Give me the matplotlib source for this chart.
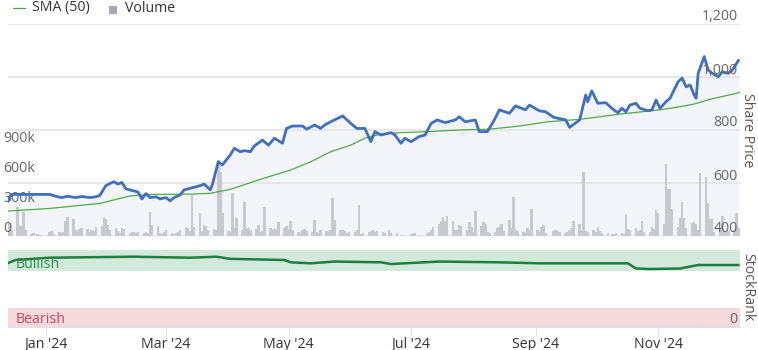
import matplotlib
matplotlib.use("Agg")
import matplotlib.pyplot as plt
import matplotlib.transforms as mtransforms
from matplotlib.lines import Line2D
from matplotlib.patches import Rectangle
import pandas as pd

plt.rcParams['font.family'] = ['Open Sans', 'DejaVu Sans']

# share price
price_dates = [
    "2023-12-13", "2023-12-15", "2023-12-24", "2024-01-03", "2024-01-06", "2024-01-09",
    "2024-01-12", "2024-01-16", "2024-01-19", "2024-01-23", "2024-01-26", "2024-01-28",
    "2024-01-31", "2024-02-02", "2024-02-04", "2024-02-06", "2024-02-08", "2024-02-10",
    "2024-02-13", "2024-02-16", "2024-02-18", "2024-02-20", "2024-02-22", "2024-02-25",
    "2024-02-27", "2024-03-01", "2024-03-03", "2024-03-05", "2024-03-08", "2024-03-10",
    "2024-03-15", "2024-03-18", "2024-03-20", "2024-03-23", "2024-03-24", "2024-03-27",
    "2024-03-29", "2024-04-02", "2024-04-04", "2024-04-07", "2024-04-09", "2024-04-12",
    "2024-04-14", "2024-04-18", "2024-04-21", "2024-04-24", "2024-04-28", "2024-04-30",
    "2024-05-03", "2024-05-08", "2024-05-10", "2024-05-14", "2024-05-17", "2024-05-19",
    "2024-05-23", "2024-05-28", "2024-06-01", "2024-06-04", "2024-06-08", "2024-06-11",
    "2024-06-13", "2024-06-16", "2024-06-21", "2024-06-23", "2024-06-26", "2024-06-28",
    "2024-07-01", "2024-07-05", "2024-07-08", "2024-07-11", "2024-07-14", "2024-07-18",
    "2024-07-23", "2024-07-25", "2024-07-28", "2024-08-02", "2024-08-04", "2024-08-08",
    "2024-08-11", "2024-08-14", "2024-08-19", "2024-08-22", "2024-08-27", "2024-08-29",
    "2024-09-03", "2024-09-06", "2024-09-10", "2024-09-16", "2024-09-18", "2024-09-23",
    "2024-09-26", "2024-09-27", "2024-09-29", "2024-10-02", "2024-10-06", "2024-10-09",
    "2024-10-12", "2024-10-14", "2024-10-16", "2024-10-18", "2024-10-21", "2024-10-23",
    "2024-10-27", "2024-10-29", "2024-10-31", "2024-11-02", "2024-11-05", "2024-11-07",
    "2024-11-11", "2024-11-13", "2024-11-15", "2024-11-17", "2024-11-19", "2024-11-20",
    "2024-11-21", "2024-11-24", "2024-11-26", "2024-11-28", "2024-12-01", "2024-12-03",
    "2024-12-06", "2024-12-08", "2024-12-11",
]
price = [
    530, 557, 557, 557, 550, 545,
    550, 545, 549, 545, 548, 553,
    590, 598, 605, 596, 602, 578,
    572, 566, 540, 560, 545, 548,
    540, 545, 533, 545, 555, 574,
    584, 590, 596, 574, 592, 680,
    668, 706, 731, 718, 722, 718,
    740, 762, 743, 769, 750, 806,
    815, 815, 803, 819, 806, 819,
    835, 853, 825, 806, 806, 756,
    794, 781, 790, 781, 750, 769,
    756, 775, 781, 825, 838, 828,
    838, 850, 831, 838, 794, 794,
    831, 876, 863, 891, 876, 894,
    872, 869, 848, 838, 810, 838,
    932, 907, 948, 901, 903, 882,
    865, 882, 869, 894, 901, 882,
    873, 876, 913, 882, 907, 920,
    982, 996, 963, 970, 932, 920,
    1014, 1077, 1026, 1014, 1001, 1020,
    1014, 1026, 1062,
]

sma_dates = [
    "2023-12-13", "2024-01-03", "2024-01-28", "2024-02-12", "2024-02-22", "2024-03-13",
    "2024-03-23", "2024-04-02", "2024-04-17", "2024-05-02", "2024-05-12", "2024-05-22",
    "2024-06-01", "2024-06-08", "2024-06-16", "2024-06-26", "2024-07-10", "2024-07-25",
    "2024-08-09", "2024-08-24", "2024-09-07", "2024-09-23", "2024-10-13", "2024-11-02",
    "2024-11-12", "2024-11-19", "2024-11-27", "2024-12-12",
]
sma = [
    494, 504, 523, 551, 557, 558,
    561, 576, 614, 649, 680, 718,
    743, 769, 785, 790, 794, 800,
    803, 815, 831, 840, 860, 876,
    888, 898, 916, 942,
]

# daily volume in thousands, one per trading day from 13 Dec 2023
vol_start = "2023-12-13"
volume_k = [
    140, 130, 60, 290, 100, 100, 240, 60, 20, 30, 0, 20, 10, 0, 0, 40, 50, 20, 40, 30,
    40, 150, 190, 170, 60, 50, 70, 80, 70, 40, 60, 50, 90, 100, 190, 170, 110, 60, 80, 50,
    30, 80, 70, 30, 40, 40, 30, 40, 30, 40, 30, 240, 110, 100, 30, 20, 40, 60, 30, 20,
    30, 40, 60, 90, 80, 50, 410, 90, 230, 50, 110, 100, 60, 70, 60, 760, 640, 230, 50, 40,
    430, 80, 180, 60, 340, 70, 80, 60, 70, 110, 40, 50, 290, 80, 60, 70, 60, 140, 80, 100,
    70, 150, 60, 40, 30, 60, 70, 50, 40, 160, 40, 30, 60, 50, 40, 60, 380, 160, 60, 60,
    50, 30, 40, 40, 60, 310, 20, 30, 40, 50, 60, 40, 50, 40, 30, 0, 60, 30, 30, 0,
    10, 0, 0, 20, 30, 30, 0, 10, 0, 30, 40, 60, 90, 120, 150, 190, 150, 200, 150, 60,
    60, 110, 100, 60, 140, 90, 40, 250, 100, 140, 120, 40, 30, 40, 80, 90, 120, 50, 160, 80,
    390, 60, 50, 40, 30, 80, 50, 270, 60, 40, 90, 110, 30, 0, 50, 60, 50, 40, 30, 40,
    60, 80, 150, 120, 50, 640, 50, 40, 60, 40, 90, 50, 30, 30, 0, 20, 20, 30, 30, 20,
    210, 70, 60, 80, 50, 60, 150, 40, 40, 90, 70, 260, 230, 120, 720, 470, 470, 270, 90, 180,
    340, 180, 80, 130, 140, 120, 60, 630, 590, 330, 170, 170, 40, 60, 200, 50, 40, 50, 60, 230, 80,
]

rank_dates = [
    "2023-12-13", "2023-12-17", "2024-01-03", "2024-02-14", "2024-03-13", "2024-03-26",
    "2024-04-02", "2024-04-29", "2024-05-02", "2024-05-12", "2024-05-24", "2024-06-16",
    "2024-06-21", "2024-07-15", "2024-08-14", "2024-09-03", "2024-10-17", "2024-10-21",
    "2024-10-28", "2024-11-12", "2024-11-21", "2024-12-11",
]
rank = [
    82.7, 87, 90, 91.3, 90, 91.3,
    88.5, 87, 84, 82.7, 85, 84,
    81.8, 85, 84, 82.7, 82.7, 76,
    75.3, 76, 80.5, 80.5,
]

price_ticks = [400, 600, 800, 1000, 1200]
vol_ticks = [0, 300, 600, 900]
vol_labels = ["0", "300k", "600k", "900k"]
month_ticks = ["2024-01-01", "2024-03-01", "2024-05-01", "2024-07-01", "2024-09-01", "2024-11-01"]
month_labels = ["Jan '24", "Mar '24", "May '24", "Jul '24", "Sep '24", "Nov '24"]

price_dates = pd.to_datetime(price_dates)
sma_dates = pd.to_datetime(sma_dates)
rank_dates = pd.to_datetime(rank_dates)
vol_dates = pd.bdate_range(vol_start, periods=len(volume_k))

x0 = pd.Timestamp("2023-12-13 07:00")
x1 = pd.Timestamp("2024-12-11 20:00")

text_col = "#333333"
label_col = "#666666"
fs = 10.2

fig = plt.figure(figsize=(7.58, 3.5), dpi=100)
rect = [8 / 758, 114 / 350, 732 / 758, 212 / 350]

# background layer: gridlines and area under price
ax_bg = fig.add_axes(rect)
ax_bg.set_xlim(x0, x1)
ax_bg.set_ylim(400, 1200)
for t in price_ticks:
    ax_bg.axhline(t, color="#e6e6e6", lw=1.3, zorder=1)
ax_bg.fill_between(price_dates, price, 400, color="#f3f5fa", lw=0, zorder=0)
ax_bg.axis("off")

# volume bars
ax_vol = fig.add_axes(rect)
ax_vol.patch.set_visible(False)
ax_vol.bar(vol_dates, volume_k, width=1.25, color="#c7c9cf", lw=0)
ax_vol.set_xlim(x0, x1)
ax_vol.set_ylim(0, 2120)
ax_vol.axis("off")

# price + sma
ax = fig.add_axes(rect)
ax.patch.set_visible(False)
ax.plot(sma_dates, sma, color="#4caa48", lw=0.9, zorder=2)
ax.plot(price_dates, price, color="#3f6fbd", lw=2.0, zorder=3, solid_joinstyle="round")
ax.set_xlim(x0, x1)
ax.set_ylim(400, 1200)
ax.axis("off")

right_tr = mtransforms.blended_transform_factory(ax.transAxes, ax.transData)
for t in price_ticks:
    ax.annotate(f"{t:,}", xy=(1, t), xycoords=right_tr, xytext=(-2, 7),
                textcoords="offset pixels", ha="right", va="center",
                fontsize=fs, color=label_col)

vol_tr = mtransforms.blended_transform_factory(ax_vol.transAxes, ax_vol.transData)
for v, lab in zip(vol_ticks, vol_labels):
    ax_vol.annotate(lab, xy=(0, v), xycoords=vol_tr, xytext=(-5, 8),
                    textcoords="offset pixels", ha="left", va="center",
                    fontsize=fs, color=label_col)

# StockRank panel
ax_r = fig.add_axes([8 / 758, 23 / 350, 732 / 758, 77 / 350])
ax_r.set_xlim(x0, x1)
ax_r.set_ylim(0, 100)
ax_r.axhspan(73, 100, color="#d3e9dc", lw=0)
ax_r.axhspan(0, 25, color="#f6d9dc", lw=0)
ax_r.plot(rank_dates, rank, color="#1e7f3c", lw=1.8)
rank_tr = mtransforms.blended_transform_factory(ax_r.transAxes, ax_r.transData)
ax_r.text(0.011, 81, "Bullish", transform=rank_tr, fontsize=fs, color="#2b8a4a", va="center")
ax_r.text(0.011, 10, "Bearish", transform=rank_tr, fontsize=fs, color="#d0435a", va="center")
ax_r.text(0.997, 10, "0", transform=rank_tr, fontsize=fs, color=label_col, va="center", ha="right")
for s in ["top", "left", "right"]:
    ax_r.spines[s].set_visible(False)
ax_r.spines["bottom"].set_color("#dde1e8")
ax_r.set_yticks([])
ax_r.set_xticks(pd.to_datetime(month_ticks))
ax_r.set_xticklabels(month_labels)
ax_r.tick_params(axis="x", length=6.5, width=0.8, color="#dde1e8", pad=1,
                 labelsize=fs, labelcolor=text_col)

# legend + axis titles
fig.add_artist(Line2D([13 / 758, 25 / 758], [1 - 8 / 350] * 2, color="#4caa48", lw=0.9))
fig.text(32 / 758, 1 - 8 / 350, "SMA (50)", fontsize=fs, color=text_col, va="center")
fig.add_artist(Rectangle((109 / 758, 1 - 14 / 350), 8 / 758, 8 / 350, color="#a9abb2", lw=0))
fig.text(125 / 758, 1 - 8 / 350, "Volume", fontsize=fs, color=text_col, va="center")
fig.text(748 / 758, 1 - 130 / 350, "Share Price", rotation=270, fontsize=fs,
         color="#555555", ha="center", va="center")
fig.text(748 / 758, 1 - 287 / 350, "StockRank", rotation=270, fontsize=fs,
         color="#555555", ha="center", va="center")

fig.savefig("out.png", dpi=100)
